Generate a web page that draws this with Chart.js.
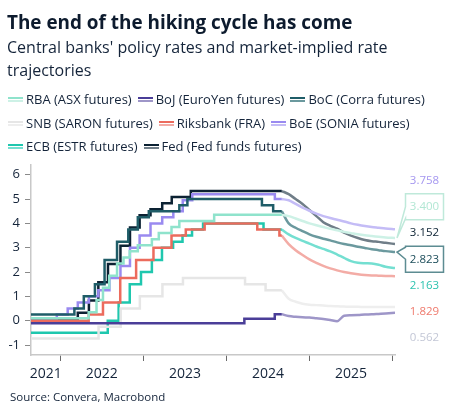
<!DOCTYPE html>
<html>
<head>
<meta charset="utf-8">
<script src="https://cdn.jsdelivr.net/npm/chart.js@4.4.1/dist/chart.umd.min.js"></script>
<style>
  body { margin: 0; background: #fff; font-family: "Open Sans", sans-serif; color: #14243a; }
  #wrap { position: relative; width: 453px; height: 417px; overflow: hidden; }
  #chart { position: absolute; left: 0; top: 0; }
  h1 { position: absolute; left: 7px; top: 8px; margin: 0; font-size: 18.9px; font-weight: 700; color: #0d1b2e; line-height: 28px; white-space: nowrap; }
  .sub { position: absolute; left: 7px; top: 36px; width: 440px; font-size: 16px; line-height: 23px; }
  #legend { position: absolute; left: 8px; top: 88px; width: 444px; display: flex; flex-wrap: wrap; column-gap: 6px; font-size: 13px; line-height: 23.5px; }
  .item { display: flex; align-items: center; white-space: nowrap; }
  .swatch { width: 15px; height: 1px; border-top: 2px solid; border-bottom: 2px solid; margin-right: 3px; }
  .source { position: absolute; left: 10px; top: 388px; font-size: 11.5px; line-height: 18px; }
</style>
</head>
<body>
<div id="wrap">
  <canvas id="chart" width="453" height="417"></canvas>
  <h1>The end of the hiking cycle has come</h1>
  <div class="sub">Central banks' policy rates and market-implied rate<br>trajectories</div>
  <div id="legend"></div>
  <div class="source">Source: Convera, Macrobond</div>
</div>
<script>
// Policy rates: [date, new rate] at each change
const rbaSteps = [['2021-08-24', 0.1], ['2022-05-04', 0.35], ['2022-06-08', 0.85], ['2022-07-06', 1.35], ['2022-08-03', 1.85], ['2022-09-07', 2.35], ['2022-10-05', 2.6], ['2022-11-02', 2.85], ['2022-12-07', 3.1], ['2023-02-08', 3.35], ['2023-03-08', 3.6], ['2023-05-03', 3.85], ['2023-06-07', 4.1], ['2023-11-08', 4.35], ['2024-09-01', 4.35]];
const bojSteps = [['2021-08-24', -0.1], ['2024-03-19', 0.08], ['2024-07-31', 0.27], ['2024-09-01', 0.27]];
const bocSteps = [['2021-08-24', 0.25], ['2022-03-02', 0.5], ['2022-04-13', 1.0], ['2022-06-01', 1.5], ['2022-07-13', 2.5], ['2022-09-07', 3.25], ['2022-10-26', 3.75], ['2022-12-07', 4.25], ['2023-01-25', 4.5], ['2023-06-07', 4.75], ['2023-07-12', 5.0], ['2024-06-05', 4.75], ['2024-07-24', 4.5], ['2024-09-01', 4.5]];
const snbSteps = [['2021-08-24', -0.73], ['2022-06-17', -0.25], ['2022-09-23', 0.5], ['2022-12-16', 1.0], ['2023-03-24', 1.5], ['2023-06-23', 1.75], ['2024-03-22', 1.5], ['2024-06-21', 1.25], ['2024-09-01', 1.25]];
const riksSteps = [['2021-08-24', 0.0], ['2022-05-04', 0.25], ['2022-07-06', 0.75], ['2022-09-21', 1.75], ['2022-11-30', 2.5], ['2023-02-15', 3.0], ['2023-05-03', 3.5], ['2023-07-05', 3.75], ['2023-09-27', 4.0], ['2024-05-15', 3.75], ['2024-08-21', 3.5], ['2024-09-01', 3.5]];
const boeSteps = [['2021-08-24', 0.1], ['2021-12-16', 0.25], ['2022-02-03', 0.5], ['2022-03-17', 0.75], ['2022-05-05', 1.0], ['2022-06-16', 1.25], ['2022-08-04', 1.75], ['2022-09-22', 2.25], ['2022-11-03', 3.0], ['2022-12-15', 3.5], ['2023-02-02', 4.0], ['2023-03-23', 4.25], ['2023-05-11', 4.5], ['2023-06-22', 4.95], ['2023-08-03', 5.2], ['2024-08-01', 5.0], ['2024-09-01', 5.0]];
const ecbSteps = [['2021-08-24', -0.5], ['2022-07-27', 0.0], ['2022-09-14', 0.75], ['2022-11-02', 1.5], ['2022-12-21', 2.0], ['2023-02-08', 2.5], ['2023-03-22', 3.0], ['2023-05-10', 3.25], ['2023-06-21', 3.5], ['2023-08-02', 3.75], ['2023-09-20', 4.0], ['2024-06-12', 3.75], ['2024-09-01', 3.75]];
const fedSteps = [['2021-08-24', 0.08], ['2022-03-17', 0.33], ['2022-05-05', 0.83], ['2022-06-16', 1.58], ['2022-07-28', 2.33], ['2022-09-22', 3.08], ['2022-11-03', 3.83], ['2022-12-15', 4.33], ['2023-02-02', 4.58], ['2023-03-23', 4.83], ['2023-05-04', 5.08], ['2023-07-27', 5.33], ['2024-09-01', 5.33]];

// Market-implied paths
const fcDates = ['2024-09-01', '2024-10-01', '2024-11-01', '2024-12-01', '2025-01-01', '2025-02-01', '2025-03-01', '2025-04-01', '2025-05-01', '2025-06-01', '2025-07-01', '2025-08-01', '2025-09-01', '2025-10-01', '2025-11-01', '2025-12-01', '2026-01-12'];
const rbaPath = [4.35, 4.3, 4.2, 4.1, 4.0, 3.92, 3.85, 3.78, 3.72, 3.65, 3.6, 3.55, 3.51, 3.48, 3.45, 3.42, 3.4];
const bojPath = [0.27, 0.19, 0.16, 0.14, 0.13, 0.1, 0.07, 0.03, -0.02, 0.2, 0.22, 0.23, 0.25, 0.26, 0.28, 0.3, 0.33];
const bocPath = [4.5, 4.0, 3.82, 3.68, 3.55, 3.45, 3.37, 3.3, 3.22, 3.15, 3.1, 3.04, 2.99, 2.94, 2.9, 2.86, 2.823];
const snbPath = [1.25, 0.9, 0.78, 0.7, 0.66, 0.64, 0.62, 0.6, 0.59, 0.58, 0.57, 0.57, 0.56, 0.56, 0.56, 0.56, 0.562];
const riksPath = [3.5, 3.15, 2.9, 2.7, 2.52, 2.38, 2.25, 2.15, 2.07, 2.0, 1.95, 1.91, 1.88, 1.86, 1.85, 1.84, 1.829];
const boePath = [5.0, 4.95, 4.8, 4.65, 4.52, 4.4, 4.3, 4.22, 4.15, 4.08, 4.0, 3.94, 3.89, 3.85, 3.82, 3.79, 3.758];
const ecbPath = [3.75, 3.55, 3.4, 3.28, 3.17, 3.05, 2.95, 2.85, 2.72, 2.58, 2.45, 2.38, 2.36, 2.35, 2.3, 2.22, 2.163];
const fedPath = [5.33, 5.2, 5.0, 4.8, 4.55, 4.3, 4.05, 3.9, 3.78, 3.62, 3.5, 3.4, 3.32, 3.27, 3.24, 3.2, 3.152];

const yTicks = [-1, 0, 1, 2, 3, 4, 5, 6];
const yearLabels = ['2021', '2022', '2023', '2024', '2025'];
const xMin = 2021.647;
const xMax = 2026.03;

// date string -> decimal year
function toYear(s) {
    const [y, m, d] = s.split('-').map(Number);
    return y + (m - 1) / 12 + ((d || 1) - 1) / 365;
}

const banks = [
    { label: 'RBA (ASX futures)', steps: rbaSteps, path: rbaPath, color: '#8fe3cc', fc: '#cdf1e6', text: '#b2e7d4', box: '#bfe9da' },
    { label: 'BoJ (EuroYen futures)', steps: bojSteps, path: bojPath, color: '#4a3e98', fc: '#9e96c8' },
    { label: 'BoC (Corra futures)', steps: bocSteps, path: bocPath, color: '#1f5d68', fc: '#6b999e', text: '#1c4d5a', box: '#5d8c92' },
    { label: 'SNB (SARON futures)', steps: snbSteps, path: snbPath, color: '#e6e6e6', fc: '#eeeeee', text: '#c3c7d6' },
    { label: 'Riksbank (FRA)', steps: riksSteps, path: riksPath, color: '#ec6b5d', fc: '#f3aca6', text: '#ef7a6d' },
    { label: 'BoE (SONIA futures)', steps: boeSteps, path: boePath, color: '#9a8af0', fc: '#c4bcf6', text: '#a597f0' },
    { label: 'ECB (ESTR futures)', steps: ecbSteps, path: ecbPath, color: '#1fc7ae', fc: '#74dfd1', text: '#2ec3b0' },
    { label: 'Fed (Fed funds futures)', steps: fedSteps, path: fedPath, color: '#0c2233', fc: '#707e88', text: '#0c2233' }
];

const datasets = [];
banks.forEach(b => {
    datasets.push({
        label: b.label,
        data: b.steps.map(s => ({ x: toYear(s[0]), y: s[1] })),
        borderColor: b.color,
        stepped: true,
        fcColor: b.fc
    });
});
banks.forEach(b => {
    datasets.push({
        label: b.label + ' path',
        data: b.path.map((v, i) => ({ x: toYear(fcDates[i]), y: v })),
        borderColor: b.fc,
        cubicInterpolationMode: 'monotone',
        isPath: true,
        endText: b.text,
        endBox: b.box
    });
});

// year labels sit in the middle of each (visible) year, tick marks on year boundaries
const xTicks = [];
yearLabels.forEach(lab => {
    const y0 = Number(lab);
    const mid = (Math.max(y0, xMin) + Math.min(y0 + 1, xMax)) / 2;
    xTicks.push({ value: mid, label: lab });
    if (y0 + 1 < xMax) xTicks.push({ value: y0 + 1, mark: true });
});

const endLabels = {
    id: 'endLabels',
    afterDatasetsDraw(chart) {
        const ctx = chart.ctx;
        const items = [];
        chart.data.datasets.forEach((ds, i) => {
            if (!ds.endText) return;
            const pts = chart.getDatasetMeta(i).data;
            const p = pts[pts.length - 1];
            items.push({ ds, px: p.x, py: p.y, value: ds.data[ds.data.length - 1].y });
        });
        items.sort((a, b) => a.py - b.py);
        const gap = 26.3;
        const mean = items.reduce((s, it) => s + it.py, 0) / items.length;
        const bx = chart.chartArea.right + 10.5, bw = 38, bh = 26;
        ctx.save();
        items.forEach((it, k) => {
            const ly = mean + (k - (items.length - 1) / 2) * gap;
            if (it.ds.endBox) {
                const top = ly - bh / 2, bottom = ly + bh / 2;
                const c = Math.min(Math.max(it.py, top + 7), bottom - 7);
                ctx.beginPath();
                ctx.moveTo(bx, top);
                ctx.lineTo(bx + bw, top);
                ctx.lineTo(bx + bw, bottom);
                ctx.lineTo(bx, bottom);
                ctx.lineTo(bx, c + 6);
                ctx.lineTo(it.px + 2, it.py);
                ctx.lineTo(bx, c - 6);
                ctx.closePath();
                ctx.fillStyle = '#fff';
                ctx.fill();
                ctx.lineWidth = 1.5;
                ctx.strokeStyle = it.ds.endBox;
                ctx.stroke();
            }
            ctx.fillStyle = it.ds.endText;
            ctx.font = '11.5px "Open Sans", sans-serif';
            ctx.textAlign = 'center';
            ctx.textBaseline = 'middle';
            ctx.fillText(it.value.toFixed(3), bx + bw / 2, ly);
        });
        ctx.restore();
    }
};

const axisColor = '#c8c8c8';
const textColor = '#14243a';

const chart = new Chart(document.getElementById('chart'), {
    type: 'line',
    data: { datasets },
    options: {
        responsive: false,
        animation: false,
        devicePixelRatio: 1,
        layout: { padding: { top: 165, right: 58, bottom: 32, left: 0 } },
        elements: {
            line: { borderWidth: 2.5, fill: false },
            point: { radius: 0, hoverRadius: 0 }
        },
        plugins: {
            legend: { display: false },
            tooltip: { enabled: false }
        },
        scales: {
            x: {
                type: 'linear',
                min: xMin,
                max: xMax,
                afterBuildTicks: s => { s.ticks = xTicks.map(t => ({ ...t })); },
                afterFit: s => { s.height = 30; },
                ticks: {
                    autoSkip: false,
                    maxRotation: 0,
                    padding: 5,
                    color: textColor,
                    font: { family: '"Open Sans", sans-serif', size: 14 },
                    callback: (v, i, ticks) => ticks[i].label || ''
                },
                grid: {
                    drawOnChartArea: false,
                    tickLength: 6,
                    tickColor: c => (c.tick && c.tick.mark) ? '#6a6a6a' : 'rgba(0,0,0,0)'
                },
                border: { color: axisColor, width: 1.5 }
            },
            y: {
                min: -1.41,
                max: 6.4,
                afterBuildTicks: s => { s.ticks = yTicks.map(v => ({ value: v })); },
                afterFit: s => { s.width = 31; },
                ticks: {
                    padding: 5,
                    color: textColor,
                    font: { family: '"Open Sans", sans-serif', size: 13 }
                },
                grid: { drawOnChartArea: false, tickLength: 6, tickColor: '#8a8a8a' },
                border: { color: axisColor, width: 1.5 }
            }
        }
    },
    plugins: [endLabels]
});

// legend built from the chart's own datasets
const legendEl = document.getElementById('legend');
chart.data.datasets.filter(ds => !ds.isPath).forEach(ds => {
    const item = document.createElement('div');
    item.className = 'item';
    const sw = document.createElement('span');
    sw.className = 'swatch';
    sw.style.borderTopColor = ds.borderColor;
    sw.style.borderBottomColor = ds.fcColor;
    item.appendChild(sw);
    item.appendChild(document.createTextNode(ds.label));
    legendEl.appendChild(item);
});
</script>
</body>
</html>
